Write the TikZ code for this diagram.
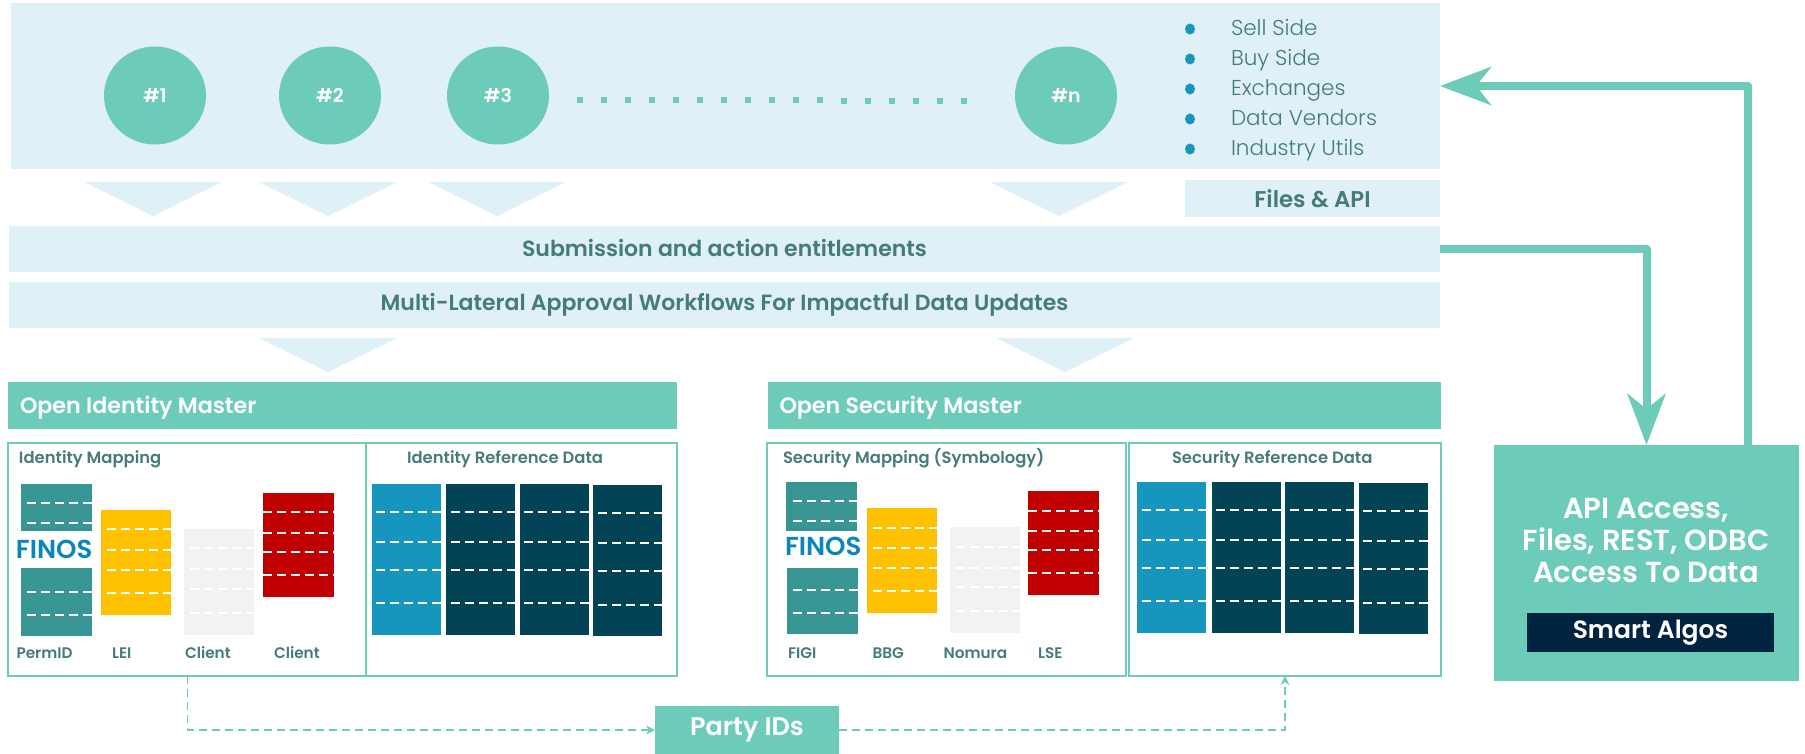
\documentclass[tikz,border=0pt]{standalone}
\usepackage{fontspec}
\setmainfont{Poppins}[BoldFont={Poppins SemiBold}]
\newfontfamily\lightfont{Poppins Light}
\usetikzlibrary{arrows.meta,shapes.geometric}
\definecolor{lightband}{HTML}{DFF0F7}
\definecolor{mint}{HTML}{6DCBB9}
\definecolor{slate}{HTML}{457B7B}
\definecolor{tealbar}{HTML}{379693}
\definecolor{yellowbar}{HTML}{FFC000}
\definecolor{greybar}{HTML}{F2F2F2}
\definecolor{redbar}{HTML}{C00000}
\definecolor{bluebar}{HTML}{1696BC}
\definecolor{darkbar}{HTML}{024356}
\definecolor{navybox}{HTML}{00233F}
\definecolor{finosblue}{HTML}{0A86BD}
\tikzset{
  x=1pt,y=-1pt,
  rectbox/.style={inset sep,rectangle,draw=none},
  inset sep/.style={inner sep=0pt,outer sep=0pt},
  band/.style={rectbox,fill=lightband},
  circlenode/.style={ellipse,inset sep,fill=mint,minimum width=102pt,minimum height=98pt,text=white,font=\bfseries\fontsize{19}{23}\selectfont},
  bandtext/.style={text=slate,font=\bfseries\fontsize{22}{26}\selectfont},
  mastertext/.style={text=white,anchor=mid west,inset sep,yshift=-5.5pt,font=\bfseries\fontsize{22.2}{26}\selectfont},
  paneltitle/.style={text=slate,anchor=mid west,inset sep,yshift=-3.5pt,font=\bfseries\fontsize{16.4}{20}\selectfont},
  barlabel/.style={text=slate,anchor=mid west,inset sep,yshift=-3pt,font=\bfseries\fontsize{15.3}{18}\selectfont},
  listtext/.style={text=slate,anchor=mid west,inset sep,yshift=-5.5pt,font=\lightfont\fontsize{21.5}{25}\selectfont},
  finos/.style={text=finosblue,anchor=mid west,inset sep,yshift=-6pt,font=\bfseries\fontsize{26}{30}\selectfont},
  panel/.style={rectbox,draw=mint,line width=2pt},
  arrowband/.style={fill=lightband,draw=none},
  cutline/.style={draw=white,line width=1.6pt,dash pattern=on 9pt off 5pt},
  thickflow/.style={draw=mint,line width=8pt,line join=round,-{Stealth[length=51pt,width=38pt,inset=15pt]}},
  thinflow/.style={draw=mint,line width=1.5pt,dash pattern=on 8pt off 5pt,-{Stealth[length=9pt,width=9pt,inset=3pt]}},
  dotsq/.style={rectangle,fill=mint,inset sep,minimum size=6pt},
  bulletdot/.style={ellipse,fill=bluebar,inset sep,minimum width=10pt,minimum height=11pt},
}
\newcommand{\rbox}[7]{%
  \pgfmathsetmacro{\rw}{#4-#2}\pgfmathsetmacro{\rh}{#5-#3}%
  \pgfmathsetmacro{\rx}{(#2+#4)/2}\pgfmathsetmacro{\ry}{(#3+#5)/2}%
  \node[#6,minimum width=\rw pt,minimum height=\rh pt] (#1) at (\rx,\ry) {#7};}
\newcommand{\cuts}[3]{\foreach \yy in {#3} {\draw[cutline] (#1,\yy) -- (#2,\yy);}}
\newcommand{\tri}[3]{\fill[arrowband] (#1-69,#2) -- (#1+69,#2) -- (#1,#3) -- cycle;}
\begin{document}
\begin{tikzpicture}
\useasboundingbox (0,0) rectangle (1805,754);
% bands
\rbox{topband}{11}{3}{1440}{169}{band}{}
\rbox{filesapi}{1185}{180}{1440}{217}{band,bandtext,font=\bfseries\fontsize{22.8}{26}\selectfont}{Files \& API}
\rbox{submission}{9}{226}{1440}{272}{band,bandtext}{\raisebox{2pt}{Submission and action entitlements}}
\rbox{approval}{9}{282}{1440}{328}{band,bandtext}{\raisebox{-5pt}{Multi-Lateral Approval Workflows For Impactful Data Updates}}
% circles
\node[circlenode] (c1) at (155,95.5) {\raisebox{-5pt}{\#1}};
\node[circlenode] (c2) at (330,95.5) {\raisebox{-5pt}{\#2}};
\node[circlenode] (c3) at (498,95.5) {\raisebox{-5pt}{\#3}};
\node[circlenode] (cn) at (1066,95.5) {\raisebox{-5pt}{\#n}};
\foreach \i in {0,...,16} {\node[dotsq] (dot\i) at (580+24*\i,99.7+0.08*\i) {};}
% list
\foreach \n/\yy/\t in {a/29/Sell Side,b/59/Buy Side,c/89/Exchanges,d/119/Data Vendors,e/149/Industry Utils} {
  \node[bulletdot] (bul\n) at (1190,\yy) {};
  \node[listtext] (item\n) at (1231,\yy-2) {\t};
}
% triangles
\tri{153}{182}{216}\tri{328}{182}{216}\tri{497}{182}{216}\tri{1059}{182}{216}
\tri{328}{338}{372}\tri{1065}{338}{372}
% masters
\rbox{idmaster}{8}{382}{677}{429}{rectbox,fill=mint}{}
\node[mastertext] (idmastertext) at (20,405.5) {Open Identity Master};
\rbox{secmaster}{768}{382}{1441}{429}{rectbox,fill=mint}{}
\node[mastertext] (secmastertext) at (779.5,405.5) {Open Security Master};
% panels
\rbox{idmap}{8}{443}{366}{676}{panel}{}
\rbox{idref}{366}{443}{677}{676}{panel}{}
\rbox{secmap}{767}{443}{1126}{676}{panel}{}
\rbox{secref}{1129}{443}{1441}{676}{panel}{}
\node[paneltitle] (t1) at (19,457) {Identity Mapping};
\node[paneltitle] (t2) at (407,457) {Identity Reference Data};
\node[paneltitle] (t3) at (783,457) {Security Mapping (Symbology)};
\node[paneltitle] (t4) at (1172,457) {Security Reference Data};
% left mapping bars
\rbox{b1}{21}{484}{92}{531}{rectbox,fill=tealbar}{}\cuts{27}{92}{503,523}
\node[finos] (finos1) at (16,549.5) {FINOS};
\rbox{b2}{21}{568}{92}{636}{rectbox,fill=tealbar}{}\cuts{27}{92}{592,615}
\rbox{b3}{101}{510}{171}{615}{rectbox,fill=yellowbar}{}\cuts{107}{171}{529,550,570,593}
\rbox{b4}{184}{529}{254}{635}{rectbox,fill=greybar}{}\cuts{190}{254}{548,569,589,613}
\rbox{b5}{263}{493}{334}{597}{rectbox,fill=redbar}{}\cuts{263}{334}{512,533,552,575}
% left reference bars
\rbox{b6}{372}{484}{441}{635}{rectbox,fill=bluebar}{}\cuts{376}{441}{512,542,570,603}
\rbox{b7}{446}{484}{515}{635}{rectbox,fill=darkbar}{}\cuts{451}{515}{512,542,570,603}
\rbox{b8}{520}{484}{589}{635}{rectbox,fill=darkbar}{}\cuts{524}{589}{512,542,570,603}
\rbox{b9}{593}{485}{662}{636}{rectbox,fill=darkbar}{}\cuts{598}{662}{513,543,571,605}
\node[barlabel] (l1) at (16.5,653) {PermID};
\node[barlabel] (l2) at (112,653) {LEI};
\node[barlabel] (l3) at (185,653) {Client};
\node[barlabel] (l4) at (274,653) {Client};
% right mapping bars
\rbox{s1}{786}{482}{857}{531}{rectbox,fill=tealbar}{}\cuts{793}{857}{501,521}
\node[finos] (finos2) at (785,547) {FINOS};
\rbox{s2}{787}{568}{858}{634}{rectbox,fill=tealbar}{}\cuts{793}{858}{590,613}
\rbox{s3}{867}{508}{937}{613}{rectbox,fill=yellowbar}{}\cuts{873}{937}{528,548,568,591}
\rbox{s4}{950}{527}{1020}{633}{rectbox,fill=greybar}{}\cuts{956}{1020}{547,568,587,611}
\rbox{s5}{1028}{491}{1099}{595}{rectbox,fill=redbar}{}\cuts{1028}{1099}{511,531,550,573}
% right reference bars
\rbox{s6}{1137}{482}{1206}{633}{rectbox,fill=bluebar}{}\cuts{1142}{1206}{510,540,568,601}
\rbox{s7}{1212}{482}{1281}{633}{rectbox,fill=darkbar}{}\cuts{1216}{1281}{510,540,568,601}
\rbox{s8}{1285}{482}{1354}{633}{rectbox,fill=darkbar}{}\cuts{1290}{1354}{510,540,568,601}
\rbox{s9}{1359}{483}{1428}{634}{rectbox,fill=darkbar}{}\cuts{1363}{1428}{511,541,569,603}
\node[barlabel] (l5) at (788,653) {FIGI};
\node[barlabel] (l6) at (872.5,653) {BBG};
\node[barlabel] (l7) at (943.5,653) {Nomura};
\node[barlabel] (l8) at (1038,653) {LSE};
% party ids
\rbox{party}{655}{706}{839}{754}{rectbox,fill=mint,text=white,font=\bfseries\fontsize{25.5}{30}\selectfont}{Party IDs}
\coordinate (idout) at (187.5,676);
\coordinate (secin) at (1285,676);
\draw[thinflow] (idout) |- (party.west);
\draw[thinflow] (party.east) -| (secin);
% api box
\rbox{apibox}{1494}{445}{1799}{681}{rectbox,fill=mint}{}
\node[text=white,align=center,inset sep,yshift=1pt,font=\bfseries\fontsize{29}{32}\selectfont] (apitext) at (1646,541) {API Access,\\Files, REST, ODBC\\Access To Data};
\rbox{algos}{1527}{613}{1774}{652}{rectbox,fill=navybox,text=white,font=\bfseries\fontsize{25}{29}\selectfont}{\raisebox{-1pt}{Smart Algos}}
% thick connectors
\coordinate (apiup) at (1748,445);
\draw[thickflow] (submission.east) -| (apibox.north);
\draw[thickflow] (apiup) |- (topband.east);
\end{tikzpicture}
\end{document}
